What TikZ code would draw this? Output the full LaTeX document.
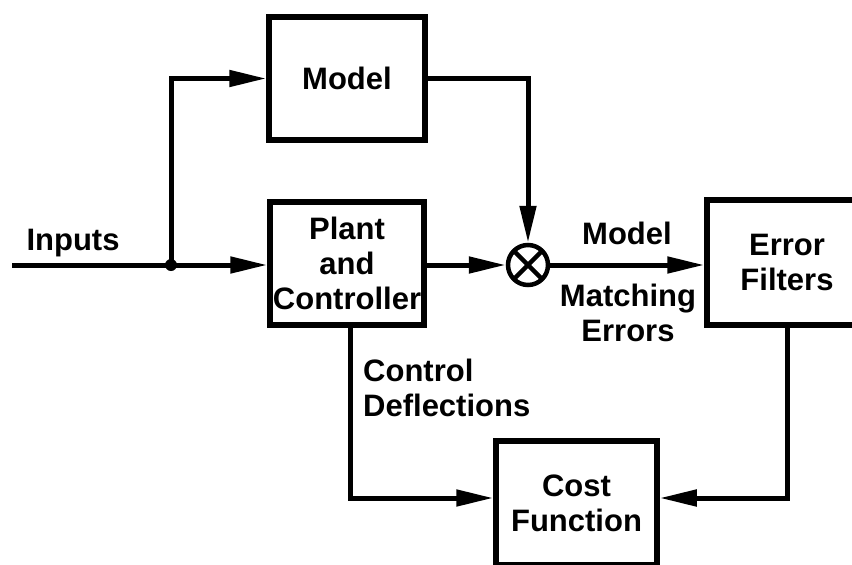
\documentclass[tikz,border=0pt]{standalone}
\usepackage{fontspec}
\setmainfont{Liberation Sans}
\usetikzlibrary{arrows.meta}

\begin{document}
\begin{tikzpicture}[x=1pt, y=-1pt,
  every node/.style={font=\fontsize{31}{35}\selectfont\bfseries, align=center},
  block/.style={draw, line width=5.5pt, inner sep=0pt},
  wire/.style={line width=5pt},
  flow/.style={wire, -{Triangle[length=37pt,width=16pt]}},
  label/.style={inner sep=0pt},
  summer/.style={draw, circle, line width=4.5pt, minimum size=40pt, inner sep=0pt,
    path picture={
      \draw[line width=4.5pt] (path picture bounding box.north west) -- (path picture bounding box.south east);
      \draw[line width=4.5pt] (path picture bounding box.north east) -- (path picture bounding box.south west);
    }}
]
\useasboundingbox (0,0) rectangle (852,565);
\clip (0,0) rectangle (852,565);

% blocks
\node[block, minimum width=156pt, minimum height=123pt] (model) at (347,78.5) {Model};
\node[block, minimum width=154pt, minimum height=123pt] (plant) at (347,263.5) {Plant\\and\\Controller};
\node[block, minimum width=160pt, minimum height=125pt] (err) at (787,262.5) {Error\\Filters\hspace*{0pt}};
\node[block, minimum width=161pt, minimum height=124pt] (cost) at (576.5,503) {Cost\\Function};
\node[summer] (sum) at (528,265) {};

% input line and branch point
\coordinate (in) at (12,265);
\coordinate (split) at (171,265);
\coordinate (costin) at (0,498);
\draw[wire] (in) -- (split);
\fill (split) circle (6pt);
\draw[flow] (split) -- (plant.west |- split);
\draw[flow] (split) |- (model.west);

% model and plant outputs into the comparator
\draw[flow] (model.east) -| (sum.north);
\draw[flow] (plant.east |- sum) -- (sum.west);
\draw[flow] (sum.east) -- (err.west |- sum);

% feeds into the cost function
\draw[flow] ([xshift=3pt]plant.south) |- (cost.west |- costin);
\draw[flow] (err.south) |- (cost.east |- costin);

% signal labels
\node[label] (lin) at (73,243) {Inputs};
\node[label] (lmodel) at (627,233) {Model};
\node[label] (lmatch) at (628,313) {Matching\\Errors};
\node[label, anchor=west, align=left] (ldefl) at (363,388) {Control\\Deflections};
\end{tikzpicture}
\end{document}
